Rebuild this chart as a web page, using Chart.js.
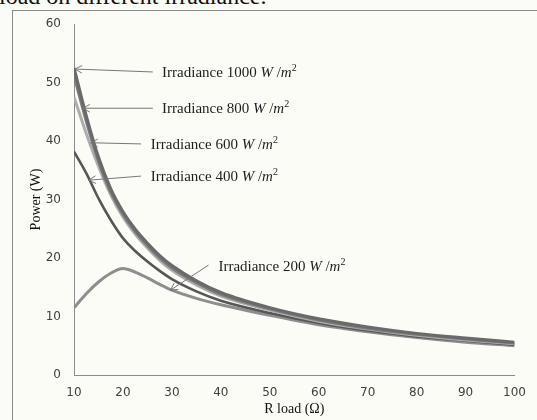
<!DOCTYPE html>
<html>
<head>
<meta charset="utf-8">
<script src="https://cdn.jsdelivr.net/npm/chart.js@4/dist/chart.umd.min.js"></script>
<style>
  html, body { margin: 0; padding: 0; width: 537px; height: 420px; overflow: hidden; background: #fcfcf6; }
  #caption { position: absolute; left: -1px; top: -17px; font: 24px "Liberation Serif", serif; color: #111; white-space: nowrap; }
  #frame { position: absolute; left: 12px; top: 10px; width: 540px; height: 420px; border: 1px solid #8a8a8a; box-sizing: border-box; }
  #wrap { position: absolute; left: 0; top: 0; width: 537px; height: 420px; }
</style>
</head>
<body>
<div id="caption">load on different irradiance.</div>
<div id="frame"></div>
<div id="wrap"><canvas id="c" width="537" height="420"></canvas></div>
<script>
// Load resistance (ohm)
const rLoad = [10, 12.5, 15, 17.5, 20, 22.5, 25, 27.5, 30, 35, 40, 50, 60, 70, 80, 90, 100];

// Output power (W) for each irradiance level
const p1000 = [52.5, 44.3, 37.2, 31.8, 27.9, 24.9, 22.5, 20.4, 18.7, 16.1, 14.1, 11.5, 9.6, 8.2, 7.1, 6.3, 5.6];
const p800  = [51.2, 43.4, 36.6, 31.3, 27.5, 24.5, 22.1, 20.0, 18.3, 15.8, 13.8, 11.3, 9.4, 8.0, 6.95, 6.15, 5.45];
const p600  = [47.5, 41.3, 35.7, 30.8, 27.0, 24.1, 21.7, 19.6, 17.9, 15.4, 13.5, 11.1, 9.2, 7.85, 6.8, 6.0, 5.35];
const p400  = [38.2, 34.5, 30.2, 26.5, 23.4, 21.2, 19.4, 17.8, 16.4, 14.3, 12.7, 10.6, 8.9, 7.6, 6.6, 5.85, 5.2];
const p200  = [11.5, 13.9, 15.9, 17.4, 18.2, 17.6, 16.6, 15.5, 14.5, 13.1, 12.0, 10.2, 8.6, 7.4, 6.4, 5.6, 5.0];

const levels = ['1000', '800', '600', '400', '200'];
const seriesList = [p1000, p800, p600, p400, p200];
const lineColors = ['#6a6a6a', '#7c7c7c', '#adadad', '#575757', '#8e8e8e'];
const lineWidths = [3.2, 3, 3, 2.6, 3];

// Callout arrows: tip, tail and text anchor in data units (R, P)
const callouts = [
  { level: '1000', tip: [10.2, 52.3], tail: [26.1, 51.8], at: [28.0, 51.8] },
  { level: '800',  tip: [11.8, 45.6], tail: [26.1, 45.6], at: [28.0, 45.6] },
  { level: '600',  tip: [13.4, 39.7], tail: [23.7, 39.5], at: [25.7, 39.5] },
  { level: '400',  tip: [13.0, 33.3], tail: [23.7, 34.0], at: [25.7, 34.0] },
  { level: '200',  tip: [29.7, 14.5], tail: [37.5, 18.8], at: [39.5, 18.6] }
];

const serif = '"Liberation Serif", "Times New Roman", serif';

const calloutPlugin = {
  id: 'callouts',
  afterDatasetsDraw(chart) {
    const { ctx, scales: { x, y } } = chart;
    ctx.save();
    callouts.forEach(c => {
      const tx = x.getPixelForValue(c.tip[0]), ty = y.getPixelForValue(c.tip[1]);
      const sx = x.getPixelForValue(c.tail[0]), sy = y.getPixelForValue(c.tail[1]);
      ctx.strokeStyle = '#767676';
      ctx.lineWidth = 1;
      ctx.beginPath();
      ctx.moveTo(sx, sy);
      ctx.lineTo(tx, ty);
      ctx.stroke();
      const a = Math.atan2(ty - sy, tx - sx), L = 8, w = 0.5;
      ctx.beginPath();
      ctx.moveTo(tx - L * Math.cos(a - w), ty - L * Math.sin(a - w));
      ctx.lineTo(tx, ty);
      ctx.lineTo(tx - L * Math.cos(a + w), ty - L * Math.sin(a + w));
      ctx.stroke();

      let px = x.getPixelForValue(c.at[0]);
      const base = y.getPixelForValue(c.at[1]) + 5;
      const parts = [
        { t: 'Irradiance ' + c.level + ' ', f: '15px ' + serif, dy: 0 },
        { t: 'W', f: 'italic 15px ' + serif, dy: 0 },
        { t: ' /', f: '15px ' + serif, dy: 0 },
        { t: 'm', f: 'italic 15px ' + serif, dy: 0 },
        { t: '2', f: '10px ' + serif, dy: -6 }
      ];
      ctx.fillStyle = '#1e1e1e';
      ctx.textBaseline = 'alphabetic';
      ctx.textAlign = 'left';
      parts.forEach(p => {
        ctx.font = p.f;
        ctx.fillText(p.t, px, base + p.dy);
        px += ctx.measureText(p.t).width;
      });
    });
    ctx.restore();
  }
};

new Chart(document.getElementById('c'), {
  type: 'line',
  data: {
    datasets: seriesList.map((s, i) => ({
      label: 'Irradiance ' + levels[i],
      data: rLoad.map((r, k) => ({ x: r, y: s[k] })),
      borderColor: lineColors[i],
      borderWidth: lineWidths[i],
      pointRadius: 0,
      fill: false,
      cubicInterpolationMode: 'monotone'
    }))
  },
  options: {
    responsive: false,
    animation: false,
    devicePixelRatio: 1,
    layout: { padding: { left: 0, right: 13, top: 24, bottom: 0 } },
    plugins: { legend: { display: false }, tooltip: { enabled: false } },
    scales: {
      x: {
        type: 'linear', min: 10, max: 100,
        grid: { display: false, drawTicks: false },
        border: { color: '#8c8c8c', width: 1 },
        ticks: { stepSize: 10, color: '#404040', padding: 11, maxRotation: 0,
                 font: { family: 'DejaVu Sans', size: 12 } },
        title: { display: true, text: 'R load (Ω)', color: '#111',
                 font: { family: serif, size: 14 }, padding: { top: 0, bottom: 2 } },
        afterFit(s) { s.height = 45; }
      },
      y: {
        min: 0, max: 60,
        grid: { display: false, drawTicks: false },
        border: { color: '#8c8c8c', width: 1 },
        ticks: { stepSize: 10, color: '#404040', padding: 13,
                 font: { family: 'DejaVu Sans', size: 12 } },
        title: { display: true, text: 'Power (W)', color: '#111',
                 font: { family: serif, size: 14 }, padding: { top: 28, bottom: 0 } },
        afterFit(s) { s.width = 74; }
      }
    }
  },
  plugins: [calloutPlugin]
});
</script>
</body>
</html>
